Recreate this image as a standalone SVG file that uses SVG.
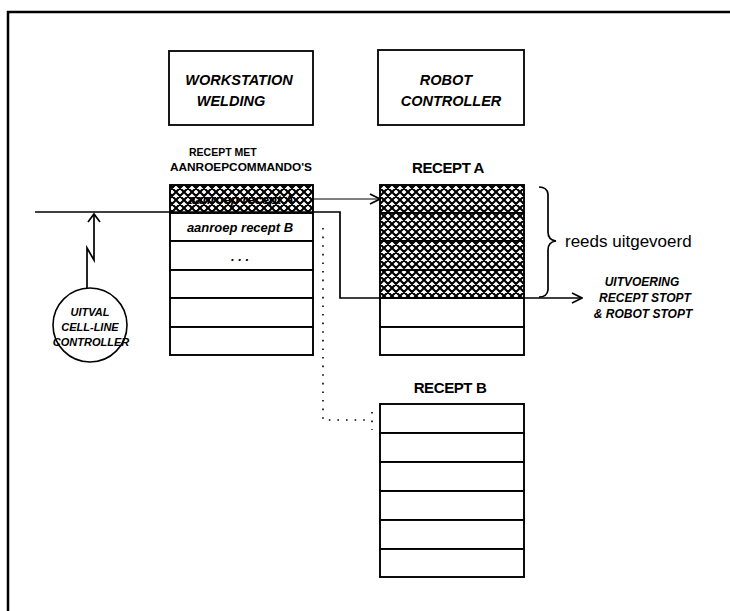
<svg xmlns="http://www.w3.org/2000/svg" width="730" height="611" viewBox="0 0 730 611">
  <defs>
    <pattern id="xhatch" patternUnits="userSpaceOnUse" width="8" height="8">
      <rect width="8" height="8" fill="#fff"/>
      <path d="M0,0 L8,8 M8,0 L0,8 M-1,7 L1,9 M7,-1 L9,1 M-1,1 L1,-1 M7,9 L9,7" stroke="#000" stroke-width="2.1"/>
    </pattern>
    <marker id="chev" viewBox="0 0 12 12" refX="11" refY="6" markerWidth="12" markerHeight="12" markerUnits="userSpaceOnUse" orient="auto">
      <path d="M1,1 L11,6 L1,11" fill="none" stroke="#000" stroke-width="1.6"/>
    </marker>
  </defs>
  <style>
    .frame { stroke: #000; stroke-width: 2.5; fill: none; }
    .box { fill: #fff; stroke: #000; stroke-width: 1.8; }
    .row { fill: #fff; stroke: #000; stroke-width: 1.9; }
    .hatched { fill: url(#xhatch); stroke: #000; stroke-width: 1.9; }
    .wire { fill: none; stroke: #000; stroke-width: 1.7; }
    .thin { fill: none; stroke: #000; stroke-width: 1; }
    .dots { fill: none; stroke: #000; stroke-width: 1.6; stroke-dasharray: 1.6 7; }
    .hdr { font-family: "Liberation Sans", Arial, sans-serif; font-weight: bold; font-style: italic; font-size: 14.5px; fill: #000; text-anchor: middle; }
    .ttl { font-family: "Liberation Sans", Arial, sans-serif; font-weight: bold; font-size: 15px; fill: #000; text-anchor: middle; letter-spacing: -0.4px; }
    .sm { font-family: "Liberation Sans", Arial, sans-serif; font-weight: bold; font-size: 10.5px; fill: #000; }
    .cell { font-family: "Liberation Sans", Arial, sans-serif; font-weight: bold; font-style: italic; font-size: 13px; fill: #000; text-anchor: middle; }
    .note { font-family: "Liberation Sans", Arial, sans-serif; font-weight: bold; font-style: italic; font-size: 11px; fill: #000; text-anchor: middle; }
    .stop { font-family: "Liberation Sans", Arial, sans-serif; font-weight: bold; font-style: italic; font-size: 12px; fill: #000; text-anchor: middle; }
    .lbl { font-family: "Liberation Sans", Arial, sans-serif; font-size: 17px; fill: #000; }
  </style>

  <rect width="730" height="611" fill="#fff"/>

  <!-- page frame: top and left edges only -->
  <path class="frame" d="M8,611 L8,12 L730,12"/>

  <!-- workstation header -->
  <g id="workstation-welding">
    <rect class="box" x="169" y="51" width="144" height="74"/>
    <text class="hdr" x="239" y="85">WORKSTATION</text>
    <text class="hdr" x="231" y="106">WELDING</text>
  </g>

  <!-- robot controller header -->
  <g id="robot-controller">
    <rect class="box" x="378" y="50" width="146" height="75"/>
    <text class="hdr" x="446" y="85">ROBOT</text>
    <text class="hdr" x="451" y="106">CONTROLLER</text>
  </g>

  <!-- recipe with call commands (workstation side) -->
  <g id="recept-met-aanroepcommandos">
    <text class="sm" x="189" y="156">RECEPT MET</text>
    <text class="sm" x="170" y="171" textLength="142" lengthAdjust="spacingAndGlyphs">AANROEPCOMMANDO'S</text>
    <rect class="hatched" x="170" y="185" width="143" height="28"/>
    <rect class="row" x="170" y="213" width="143" height="28"/>
    <rect class="row" x="170" y="241" width="143" height="29"/>
    <rect class="row" x="170" y="270" width="143" height="28"/>
    <rect class="row" x="170" y="298" width="143" height="29"/>
    <rect class="row" x="170" y="327" width="143" height="28"/>
    <text class="cell" x="241" y="204">aanroep recept A</text>
    <text class="cell" x="240" y="232">aanroep recept B</text>
    <text class="cell" x="240" y="261">. . .</text>
  </g>

  <!-- recipe A on the robot controller -->
  <g id="recept-a">
    <text class="ttl" x="448" y="173">RECEPT A</text>
    <rect class="hatched" x="380" y="185" width="144" height="28"/>
    <rect class="hatched" x="380" y="213" width="144" height="28"/>
    <rect class="hatched" x="380" y="241" width="144" height="29"/>
    <rect class="hatched" x="380" y="270" width="144" height="28"/>
    <rect class="row" x="380" y="298" width="144" height="29"/>
    <rect class="row" x="380" y="327" width="144" height="28"/>
  </g>

  <!-- recipe B on the robot controller -->
  <g id="recept-b">
    <text class="ttl" x="450" y="393">RECEPT B</text>
    <rect class="row" x="380" y="404" width="144" height="29"/>
    <rect class="row" x="380" y="433" width="144" height="29"/>
    <rect class="row" x="380" y="462" width="144" height="29"/>
    <rect class="row" x="380" y="491" width="144" height="29"/>
    <rect class="row" x="380" y="520" width="144" height="29"/>
    <rect class="row" x="380" y="549" width="144" height="28"/>
  </g>

  <!-- failing cell-line controller -->
  <g id="uitval-cell-line-controller">
    <circle cx="90" cy="325" r="37" fill="#fff" stroke="#000" stroke-width="1.6"/>
    <text class="note" x="90" y="316">UITVAL</text>
    <text class="note" x="90" y="331">CELL-LINE</text>
    <text class="note" x="91" y="346">CONTROLLER</text>
  </g>

  <!-- executed-steps annotation -->
  <g id="reeds-uitgevoerd">
    <path class="wire" d="M539,187 Q547,187 548,194 L548,232 Q548,240 556,241 Q548,242 548,250 L548,290 Q547,297 539,297"/>
    <text class="lbl" x="565" y="247">reeds uitgevoerd</text>
  </g>

  <!-- outcome note -->
  <g id="uitvoering-stopt">
    <text class="stop" x="642" y="286">UITVOERING</text>
    <text class="stop" x="645" y="302">RECEPT STOPT</text>
    <text class="stop" x="643" y="318">&amp; ROBOT STOPT</text>
  </g>

  <!-- connectors -->
  <g id="connectors">
    <!-- control flow through the recipes to the stop -->
    <path class="wire" d="M35,212 L340,212 L340,298 L582,298" marker-end="url(#chev)"/>
    <!-- call of recipe A -->
    <path class="thin" d="M313,199 L380,199" marker-end="url(#chev)"/>
    <!-- pending call of recipe B -->
    <path class="dots" d="M323,228 L323,420 L370,420"/>
    <path class="dots" d="M372,412 L372,430" stroke-dasharray="1.6 3"/>
    <!-- failure signal (lightning) -->
    <path class="wire" d="M87,288 L87,248 L94,260 L94,214"/>
    <path class="wire" d="M88,222 L94,214 L100,222"/>
  </g>
</svg>
